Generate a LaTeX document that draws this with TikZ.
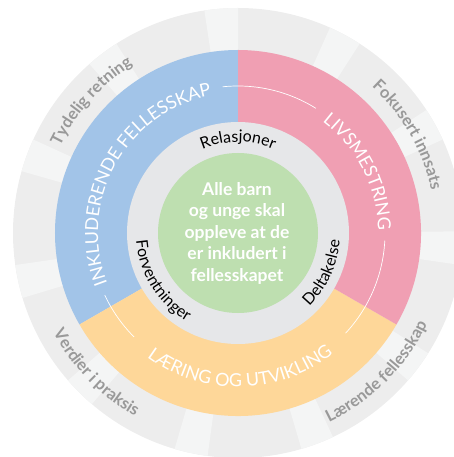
\documentclass[tikz,border=0pt]{standalone}
\usepackage{fontspec}
\setmainfont{Lato}
\usetikzlibrary{decorations.text}

\definecolor{ringdark}{HTML}{EDEDED}
\definecolor{ringlight}{HTML}{F4F5F5}
\definecolor{ringtextgray}{HTML}{999999}
\definecolor{bandblue}{HTML}{A2C4E8}
\definecolor{bandpink}{HTML}{F09FB3}
\definecolor{bandyellow}{HTML}{FED799}
\definecolor{innergray}{HTML}{E6E7E9}
\definecolor{goalgreen}{HTML}{BEDFB0}

\newcommand{\bandfont}{\fontsize{18}{18}\selectfont}
\newcommand{\innerfont}{\fontsize{16}{16}\selectfont}
\newcommand{\outerfont}{\fontsize{16.5}{16.5}\selectfont\bfseries}

\tikzset{
    band text/.style = {decorate, decoration={text along path, text align=center,
        text color=white, text={|\bandfont|#1}}},
    inner text/.style = {decorate, decoration={text along path, text align=center,
        text color=black, text={|\innerfont|#1}}},
    outer text/.style = {decorate, decoration={text along path, text align=center,
        text color=ringtextgray, text={|\outerfont|#1}}}
}

\begin{document}
\begin{tikzpicture}[
    x = 1pt, y = 1pt, % one unit is one pixel
    guide/.style = {white, line width=0.7pt}
    ]
    \useasboundingbox (-238,-224) rectangle (216,233);

    % outer ring with its light strips
    \fill[ringdark] (0,0) circle[radius=225];
    \foreach \k [evaluate=\k as \a using 90+\k*360/11] in {0,...,10}
        \fill[ringlight] (0,0) -- (\a:225) arc[start angle=\a, delta angle=8.6, radius=225] -- cycle;

    % three bands
    \fill[bandblue] (0,0) -- (90:183) arc[start angle=90, end angle=210, radius=183] -- cycle;
    \fill[bandyellow] (0,0) -- (210:183) arc[start angle=210, end angle=330, radius=183] -- cycle;
    \fill[bandpink] (0,0) -- (-30:183) arc[start angle=-30, end angle=90, radius=183] -- cycle;

    \fill[innergray] (0,0) circle[radius=111];
    \fill[goalgreen] (0,0) circle[radius=80];

    % thin white lines between the band titles
    \draw[guide] (96:147) arc[start angle=96, end angle=58, radius=147];
    \draw[guide] (-3:147) arc[start angle=-3, end angle=-43, radius=147];
    \draw[guide] (205:147) arc[start angle=205, end angle=225, radius=147];

    % band titles
    \path[band text=INKLUDERENDE FELLESSKAP] (211:140) arc[start angle=211, end angle=91, radius=140];
    \path[band text=LIVSMESTRING] (87:140) arc[start angle=87, end angle=-33, radius=140];
    \path[band text=LÆRING OG UTVIKLING] (211:154) arc[start angle=211, end angle=331, radius=154];

    % inner ring
    \path[inner text=Relasjoner] (150:91) arc[start angle=150, end angle=30, radius=91];
    \path[inner text=Deltakelse] (-85:102) arc[start angle=-85, end angle=35, radius=102];
    \path[inner text=Forventninger] (152:102) arc[start angle=152, end angle=272, radius=102];

    % outer ring
    \path[outer text=Tydelig retning] (198:198) arc[start angle=198, end angle=78, radius=198];
    \path[outer text=Fokusert innsats] (90:198) arc[start angle=90, end angle=-30, radius=198];
    \path[outer text=Verdier i praksis] (164.5:210) arc[start angle=164.5, end angle=284.5, radius=210];
    \path[outer text=Lærende fellesskap] (255:210) arc[start angle=255, end angle=375, radius=210];

    \node[align=center, text=white, font=\fontsize{17.5}{21.5}\selectfont\bfseries] (goal) at (-1,0)
        {Alle barn\\og unge skal\\oppleve at de\\er inkludert i\\fellesskapet};
\end{tikzpicture}
\end{document}
